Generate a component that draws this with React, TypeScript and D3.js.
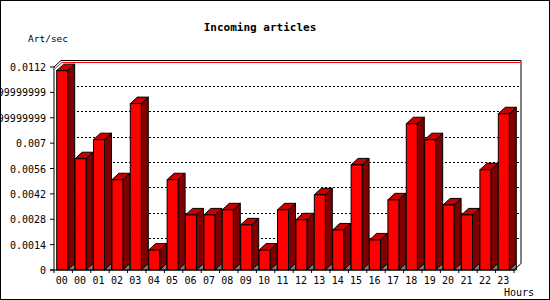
import React from "react";
import * as d3 from "d3";

const hours = ["00","00","01","02","03","04","05","06","07","08","09","10","11","12","13","14","15","16","17","18","19","20","21","22","23"];
const rates = [0.0110, 0.00614, 0.00719, 0.00498, 0.00918, 0.0011, 0.00498, 0.00304, 0.00304, 0.00332, 0.00249, 0.0011, 0.00332, 0.00277, 0.00415, 0.00221, 0.0058, 0.00166, 0.00387, 0.00807, 0.00719, 0.00359, 0.00304, 0.00553, 0.00862];
const yTicks = [0, 0.0014, 0.0028, 0.0042, 0.0056, 0.007, 0.0084, 0.0098, 0.0112];
const yTickLabels = ["0", "0.0014", "0.0028", "0.0042", "0.0056", "0.007", "0.008399999999999999", "0.009799999999999999", "0.0112"];

const W = 550, H = 300;
const DX = 7, DY = 6.5;
const FONT = "'DejaVu Sans Mono', monospace";

export default function App() {
  const x = d3.scaleBand<number>().domain(d3.range(hours.length)).range([54, 514]).paddingInner(0).paddingOuter(0);
  const y = d3.scaleLinear().domain([0, 0.0112]).range([270, 67]);
  const y0 = y(0);
  const frontW = 11;
  const off = 2.7;
  const backTop = y(0.0112) - DY;
  const backRight = 514 + DX;

  return (
    <svg width={W} height={H} style={{ position: "absolute", left: 0, top: 0, background: "#fff" }}>
      <rect x={0.5} y={0.5} width={W - 1} height={H - 1} fill="#fff" stroke="#000" />
      <text x={260} y={31} textAnchor="middle" fontFamily={FONT} fontSize={11} fontWeight="bold">Incoming articles</text>
      <text x={28} y={41.5} fontFamily={FONT} fontSize={9.5}>Art/sec</text>

      {/* back frame */}
      <line x1={54 + DX} y1={backTop} x2={backRight} y2={backTop} stroke="#000" />
      <line x1={backRight} y1={backTop} x2={backRight} y2={y0 - DY} stroke="#000" />
      <line x1={54} y1={y(0.0112)} x2={54 + DX} y2={backTop} stroke="#000" />
      <line x1={55} y1={y(0.0112) + 1.5} x2={54 + DX + 1} y2={backTop + 2} stroke="#f00" />
      <line x1={54 + DX + 1} y1={backTop + 2} x2={backRight - 0.5} y2={backTop + 2} stroke="#f00" />

      {/* grid */}
      {yTicks.slice(1, -1).map((t, i) => (
        <line key={i} x1={54 + DX} x2={backRight} y1={Math.round(y(t) - DY) + 0.5} y2={Math.round(y(t) - DY) + 0.5}
          stroke="#000" strokeDasharray="2,2" shapeRendering="crispEdges" />
      ))}

      {/* bars */}
      {rates.map((v, i) => {
        const xf = (x(i) as number) + off;
        const xr = xf + frontW;
        const top = y(v);
        return (
          <g key={i} stroke="#000" strokeWidth={1} strokeLinejoin="miter">
            <polygon points={`${xr},${top} ${xr + DX},${top - DY} ${xr + DX},${y0 - DY} ${xr},${y0}`} fill="#800000" />
            <polygon points={`${xr},${y0} ${xr + DX},${y0 - DY} ${xr + DX},${y0}`} fill="#808080" />
            <polygon points={`${xf},${top} ${xf + DX},${top - DY} ${xr + DX},${top - DY} ${xr},${top}`} fill="#c80000" />
            <rect x={xf} y={top} width={frontW} height={y0 - top} fill="#ff0000" />
          </g>
        );
      })}

      {/* axes */}
      <line x1={54} y1={y(0.0112)} x2={54} y2={y0} stroke="#000" />
      <line x1={50} y1={y0} x2={514} y2={y0} stroke="#000" />
      <line x1={514} y1={y0} x2={backRight} y2={y0 - DY} stroke="#000" />
      {yTicks.map((t, i) => (
        <g key={i}>
          <line x1={50} x2={54} y1={y(t)} y2={y(t)} stroke="#000" />
          <text x={46} y={y(t) + 4} textAnchor="end" fontFamily={FONT} fontSize={10}>{yTickLabels[i]}</text>
        </g>
      ))}
      {d3.range(hours.length + 1).map((i) => {
        const xx = 54 + i * x.bandwidth();
        return <line key={i} x1={xx} x2={xx} y1={y0} y2={y0 + 3} stroke="#000" />;
      })}
      {hours.map((h, i) => (
        <text key={i} x={(x(i) as number) + off + 5} y={283.5} textAnchor="middle" fontFamily={FONT} fontSize={10}>{h}</text>
      ))}
      <text x={534} y={296} textAnchor="end" fontFamily={FONT} fontSize={10}>Hours</text>
    </svg>
  );
}
